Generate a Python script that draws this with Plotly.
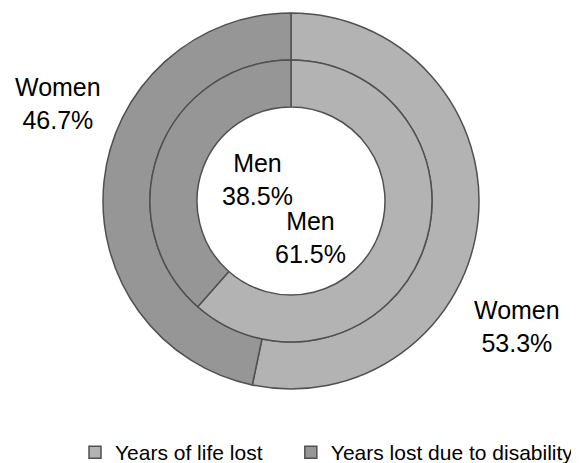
import plotly.graph_objects as go

# ---- data ----
categories = ["Years of life lost", "Years lost due to disability"]
women_values = [53.3, 46.7]   # outer ring
men_values = [61.5, 38.5]     # inner ring
ring_groups = ["Women", "Men"]

colors = ["#b3b3b3", "#969696"]
line_color = "#505050"
FONT = "Liberation Sans, Arial, sans-serif"

# The page body has an 8px default margin; lay the figure out so that it
# fits exactly in the 579x463 window.
OFF = 8
W, H = 579 - OFF, 463 - OFF


def px_x(x):
    """screen x (px) -> paper fraction"""
    return (x - OFF) / W


def px_y(y):
    """screen y (px) -> paper fraction"""
    return 1 - (y - OFF) / H


cx, cy = 291, 201
R_out, R_mid, R_hole = 188, 141, 94

# legend labels padded so the second entry sits where it does in the reference
legend_labels = [categories[0] + "\u00a0" * 4, categories[1]]

fig = go.Figure()
fig.add_trace(go.Pie(
    labels=legend_labels, values=women_values, name=ring_groups[0],
    sort=False, direction="clockwise", rotation=0,
    hole=R_mid / R_out, textinfo="none", hoverinfo="label+value",
    marker=dict(colors=colors, line=dict(color=line_color, width=1.5)),
    domain=dict(x=[px_x(cx - R_out), px_x(cx + R_out)],
                y=[px_y(cy + R_out), px_y(cy - R_out)]),
    showlegend=True,
))
fig.add_trace(go.Pie(
    labels=legend_labels, values=men_values, name=ring_groups[1],
    sort=False, direction="clockwise", rotation=0,
    hole=R_hole / R_mid, textinfo="none", hoverinfo="label+value",
    marker=dict(colors=colors, line=dict(color=line_color, width=1.5)),
    domain=dict(x=[px_x(cx - R_mid), px_x(cx + R_mid)],
                y=[px_y(cy + R_mid), px_y(cy - R_mid)]),
    showlegend=False,
))

# label anchor positions (screen pixels)
label_pos = {
    ("Women", 1): (58, 103),
    ("Men", 1): (257, 179),
    ("Men", 0): (310, 237),
    ("Women", 0): (517, 326),
}
vals = {"Women": women_values, "Men": men_values}
for (grp, idx), (lx, ly) in label_pos.items():
    fig.add_annotation(
        x=px_x(lx), y=px_y(ly), xref="paper", yref="paper",
        text=f"{grp}<br>{vals[grp][idx]:.1f}%", showarrow=False,
        xanchor="center", yanchor="middle", align="center",
        font=dict(family=FONT, size=25, color="black"),
    )

fig.update_layout(
    width=W, height=H,
    margin=dict(l=0, r=0, t=0, b=0, autoexpand=False),
    paper_bgcolor="white", plot_bgcolor="white",
    font=dict(family=FONT, color="black"),
    legend=dict(
        orientation="h", x=px_x(OFF + 67), xanchor="left",
        y=-10 / H, yanchor="bottom",
        font=dict(family=FONT, size=21, color="black"),
        bgcolor="rgba(0,0,0,0)",
    ),
)

fig.write_html("out.html")
